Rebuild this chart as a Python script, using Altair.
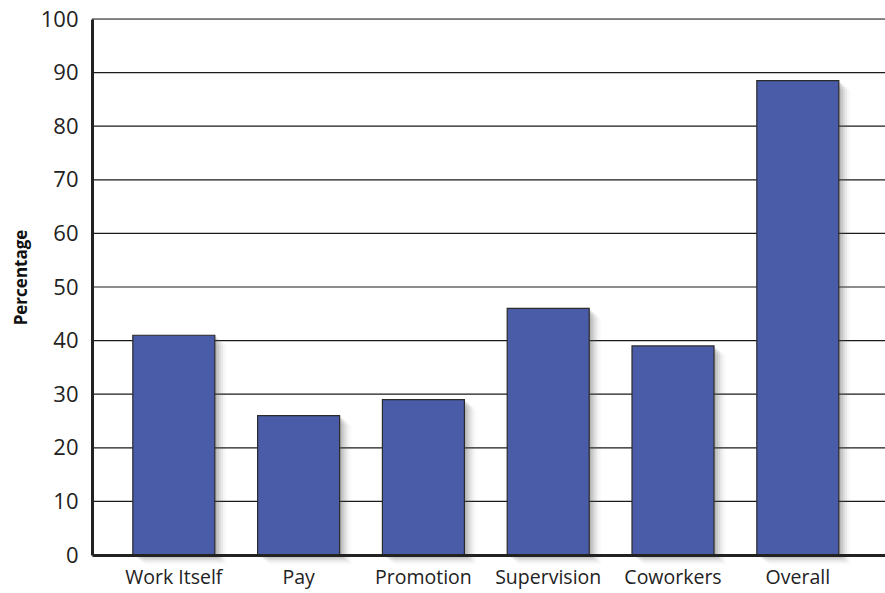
import altair as alt
import pandas as pd

categories = ["Work Itself", "Pay", "Promotion", "Supervision", "Coworkers", "Overall"]
values = [41, 26, 29, 46, 39, 88.5]
y_ticks = list(range(0, 101, 10))
grid_values = list(range(10, 101, 10))

df = pd.DataFrame({"category": categories, "value": values})

FONT = "Open Sans"

xscale = alt.Scale(paddingInner=0.343, paddingOuter=0.3486, align=0.469)
yscale = alt.Scale(domain=[0, 100], nice=False)

x_axis = alt.Axis(title=None, labelAngle=0, labelFontSize=19.5, labelFont=FONT,
                  labelColor="#222", labelPadding=13, ticks=False,
                  domain=True, domainColor="#222", domainWidth=3, grid=False, zindex=1)
y_axis = alt.Axis(title="Percentage", values=y_ticks, labelFontSize=22, labelFont=FONT,
                  labelColor="#222", labelPadding=14, ticks=False,
                  domain=True, domainColor="#222", domainWidth=3,
                  grid=False, zindex=1)

def xe():
    return alt.X("category:N", sort=categories, scale=xscale, axis=x_axis)

def ye(field="value:Q"):
    return alt.Y(field, scale=yscale, axis=y_axis, title="Percentage")

base = alt.Chart(df)

grid = alt.Chart(pd.DataFrame({"value": grid_values})).mark_rule(
    color="#1a1a1a", strokeWidth=1.2
).encode(y=ye())

shadows = []
for off, op in [(2, 0.16), (4, 0.13), (6, 0.10), (8, 0.07), (10, 0.045), (12, 0.025)]:
    shadows.append(
        base.mark_bar(color="#555555", opacity=op, xOffset=off, yOffset=off * 0.8).encode(
            x=xe(), y=ye()
        )
    )

bars = base.mark_bar(color="#4A5CA7", stroke="#2b2b2b", strokeWidth=1.2).encode(
    x=xe(), y=ye()
)

chart = alt.layer(grid, *shadows, bars).properties(
    width=793, height=536,
    padding={"left": 92, "top": 19, "right": 0, "bottom": 38},
    autosize=alt.AutoSizeParams(type="none"),
).configure_view(stroke=None).configure(background="white").configure_axisY(
    titleFont=FONT, titleFontSize=17, titleFontWeight="bold", titleColor="#111",
    titlePadding=10, titleY=258
)

chart.save("out.html", embed_options={"renderer": "svg", "actions": False})
